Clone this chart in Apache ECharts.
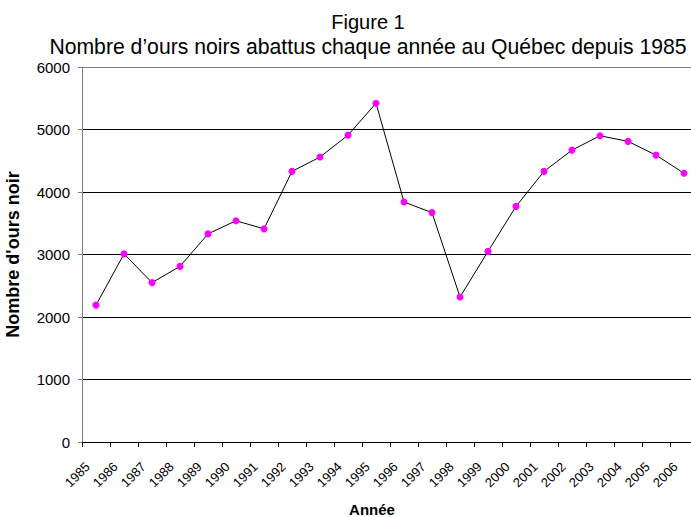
<!DOCTYPE html>
<html>
<head>
<meta charset="utf-8">
<script src="https://cdn.jsdelivr.net/npm/echarts@6/dist/echarts.min.js"></script>
<style>
  html, body { margin: 0; padding: 0; background: #fff; }
  #chart { width: 691px; height: 517px; }
</style>
</head>
<body>
<div id="chart"></div>
<script>
// bear harvest per year
const years = ["1985", "1986", "1987", "1988", "1989", "1990", "1991", "1992", "1993", "1994", "1995",
  "1996", "1997", "1998", "1999", "2000", "2001", "2002", "2003", "2004", "2005", "2006"]
const bears = [2190, 3010, 2550, 2810, 3330, 3540, 3410, 4330, 4560, 4910, 5420,
  3840, 3670, 2320, 3050, 3770, 4330, 4670, 4900, 4810, 4590, 4300]
const yTicks = [0, 1000, 2000, 3000, 4000, 5000, 6000]

const font = "Arial, 'Liberation Sans', sans-serif"

let chart = echarts.init(document.getElementById("chart"), null, { renderer: "svg" })

chart.setOption({
    animation: false,
    backgroundColor: "#fff",
    title: {
        text: "{a|Figure 1}\n{b|Nombre d’ours noirs abattus chaque année au Québec depuis 1985}",
        left: 363,
        top: 5,
        textAlign: "center",
        textStyle: {
            fontFamily: font, fontWeight: "normal", color: "#000",
            rich: {
                a: { fontFamily: font, fontWeight: "normal", fontSize: 20, color: "#000", lineHeight: 24 },
                b: { fontFamily: font, fontWeight: "normal", fontSize: 21.2, color: "#000", lineHeight: 25 }
            }
        }
    },
    grid: { left: 82, top: 67, right: -7, bottom: 75, outerBoundsMode: "none" },
    xAxis: {
        type: "category",
        data: years,
        boundaryGap: true,
        name: "Année",
        nameLocation: "middle",
        nameGap: 60,
        nameTextStyle: { fontFamily: font, fontSize: 15, fontWeight: "bold", color: "#000", padding: [0, 0, 0, -36] },
        axisLine: { lineStyle: { color: "#000", width: 1 } },
        axisTick: { show: true, length: 5, lineStyle: { color: "#000" } },
        axisLabel: { rotate: 45, margin: 14, interval: 0, padding: [0, 12, 0, 0], fontFamily: font, fontSize: 13, color: "#000" }
    },
    yAxis: {
        type: "value",
        min: yTicks[0],
        max: yTicks[yTicks.length - 1],
        interval: 1000,
        name: "Nombre d'ours noir",
        nameLocation: "middle",
        nameGap: 60,
        nameTextStyle: { fontFamily: font, fontSize: 18, fontWeight: "bold", color: "#000" },
        axisLine: { show: true, lineStyle: { color: "#808080", width: 1 } },
        axisTick: { show: true, length: 4, lineStyle: { color: "#808080" } },
        axisLabel: { margin: 12, fontFamily: font, fontSize: 15, color: "#000", formatter: v => String(v) },
        splitLine: {
            show: true,
            lineStyle: { color: ["#808080", "#000", "#000", "#000", "#000", "#000", "#808080"], width: 1 }
        }
    },
    series: [{
        type: "line",
        data: bears,
        symbol: "circle",
        symbolSize: 7,
        showAllSymbol: true,
        lineStyle: { color: "#000", width: 1 },
        itemStyle: { color: "#ff00ff" },
        emphasis: { disabled: true }
    }]
})
</script>
</body>
</html>
